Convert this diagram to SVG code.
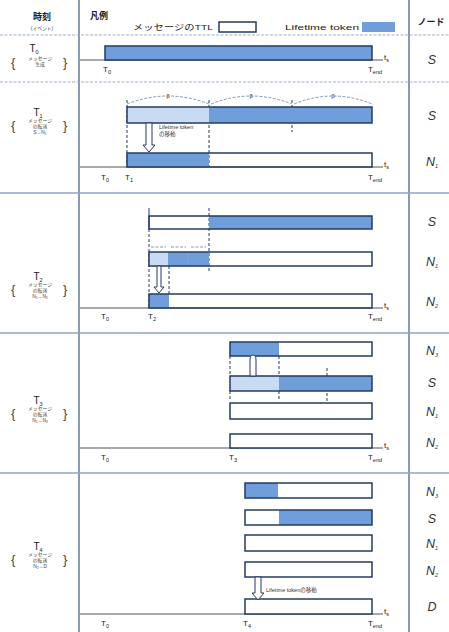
<svg xmlns="http://www.w3.org/2000/svg" width="449" height="632" viewBox="0 0 449 632">
<defs>
<style>
text{font-family:"Liberation Sans","Noto Sans CJK JP",sans-serif;fill:#222}
.hd{font-size:9px;font-weight:bold;text-anchor:middle}
.lg{font-size:8px}
.tl{font-size:8px;text-anchor:middle}
.tb{font-size:10px;text-anchor:middle}
.sub{font-size:5.5px}
.tiny{font-size:4.8px;text-anchor:middle;fill:#444}
.br{font-size:13px;fill:#444}
.nd{font-size:12.5px;font-style:italic;text-anchor:middle;fill:#333}
.bar{stroke:#243b63;stroke-width:1.5}
.w{fill:#fff}
.b{fill:#6f9edb}
.l{fill:#c8dbf2}
.seg{stroke:none}
.col{stroke:#3a5683;stroke-width:1.2;fill:none}
.sep{stroke:#8ea6c6;stroke-width:1.5;fill:none}
.dsep{stroke:#9fb3cd;stroke-width:1.2;stroke-dasharray:3 1.5;fill:none}
.axis{stroke:#555;stroke-width:1;fill:none}
.dv{stroke:#243b63;stroke-width:1;stroke-dasharray:3 2;fill:none}
.arc{stroke:#6a7fa3;stroke-width:0.8;stroke-dasharray:3 1.5;fill:none}
.arr{fill:#fff;stroke:#243b63;stroke-width:1}
.an{font-size:5.5px;fill:#333}
</style>
</defs>

<g id="grid">
<line class="col" x1="79" y1="0" x2="79" y2="632"/>
<line class="col" x1="409" y1="0" x2="409" y2="632"/>
<line class="dsep" x1="0" y1="35" x2="449" y2="35"/>
<line class="dsep" x1="0" y1="82" x2="449" y2="82"/>
<line class="sep" x1="0" y1="193" x2="449" y2="193"/>
<line class="sep" x1="0" y1="333" x2="449" y2="333"/>
<line class="sep" x1="0" y1="473" x2="449" y2="473"/>
</g>

<g id="header">
<text class="hd" x="42" y="20">時刻</text>
<text class="tiny" x="42" y="30">(イベント)</text>
<text class="hd" x="99" y="19">凡例</text>
<text class="lg" x="133" y="30" textLength="80" lengthAdjust="spacingAndGlyphs">メッセージのTTL</text>
<rect class="bar w" x="219" y="22" width="37" height="10"/>
<text class="lg" x="285" y="30" textLength="74" lengthAdjust="spacingAndGlyphs">Lifetime token</text>
<rect class="b" x="362" y="22" width="33" height="10"/>
<text class="hd" x="431" y="25">ノード</text>
</g>

<!-- T0 -->
<g id="row-T0">
<text class="tb" x="34" y="52">T<tspan class="sub" dy="2">0</tspan></text>
<text class="br" x="11" y="67">{</text>
<text class="br" x="63" y="67">}</text>
<text class="tiny" x="40" y="60">メッセージ</text>
<text class="tiny" x="40" y="66">生成</text>
<line class="axis" x1="80" y1="60" x2="383" y2="60"/>
<rect class="bar b" x="105" y="46" width="267" height="14"/>
<text class="tl" x="107" y="72">T<tspan class="sub" dy="2">0</tspan></text>
<text class="tl" x="375" y="72">T<tspan class="sub" dy="2">end</tspan></text>
<text class="lg" x="384" y="60">t<tspan class="sub" dy="2">s</tspan></text>
<text class="nd" x="432" y="64">S</text>
</g>

<!-- T1 -->
<g id="row-T1">
<text class="tb" x="38" y="116">T<tspan class="sub" dy="2">1</tspan></text>
<text class="br" x="11" y="130">{</text>
<text class="br" x="63" y="130">}</text>
<text class="tiny" x="40" y="122">メッセージ</text>
<text class="tiny" x="40" y="128">の転送</text>
<text class="tiny" x="40" y="134">S→N<tspan font-size="3.5px" dy="1">1</tspan></text>
<path class="arc" d="M127,104 Q168,88 209,104"/>
<path class="arc" d="M211,104 Q251,88 292,104"/>
<path class="arc" d="M294,104 Q333,88 372,104"/>
<text class="an" x="168" y="98" text-anchor="middle">β</text>
<text class="an" x="251" y="98" text-anchor="middle">β</text>
<text class="an" x="333" y="98" text-anchor="middle">β</text>
<line class="dv" x1="127" y1="100" x2="127" y2="167"/>
<line class="dv" x1="209" y1="100" x2="209" y2="167"/>
<line class="dv" x1="292" y1="100" x2="292" y2="132"/>
<line class="axis" x1="80" y1="167" x2="383" y2="167"/>
<rect class="seg l" x="127" y="107" width="82" height="16"/>
<rect class="seg b" x="209" y="107" width="163" height="16"/>
<rect class="bar" fill="none" x="127" y="107" width="245" height="16"/>
<rect class="seg b" x="127" y="153" width="82" height="14"/>
<rect class="bar" fill="none" x="127" y="153" width="245" height="14"/>
<path class="arr" d="M146,123 L152,123 L152,145 L155,145 L149,152 L143,145 L146,145 Z"/>
<text class="an" x="159" y="129">Lifetime token</text>
<text class="an" x="159" y="136">の移動</text>
<text class="tl" x="105" y="180">T<tspan class="sub" dy="2">0</tspan></text>
<text class="tl" x="129" y="180">T<tspan class="sub" dy="2">1</tspan></text>
<text class="tl" x="375" y="180">T<tspan class="sub" dy="2">end</tspan></text>
<text class="lg" x="384" y="167">t<tspan class="sub" dy="2">s</tspan></text>
<text class="nd" x="432" y="120">S</text>
<text class="nd" x="432" y="166">N<tspan class="sub" dy="2">1</tspan></text>
</g>

<!-- T2 -->
<g id="row-T2">
<text class="tb" x="38" y="280">T<tspan class="sub" dy="2">2</tspan></text>
<text class="br" x="11" y="294">{</text>
<text class="br" x="63" y="294">}</text>
<text class="tiny" x="40" y="286">メッセージ</text>
<text class="tiny" x="40" y="292">の転送</text>
<text class="tiny" x="40" y="298">N<tspan font-size="3.5px" dy="1">1</tspan><tspan dy="-1">→N</tspan><tspan font-size="3.5px" dy="1">2</tspan></text>
<line stroke="#243b63" stroke-width="1" x1="149" y1="208" x2="149" y2="229"/>
<line class="dv" x1="149" y1="229" x2="149" y2="308"/>
<line class="dv" x1="209" y1="208" x2="209" y2="272"/>
<line class="dv" x1="169" y1="266" x2="169" y2="294"/>
<line class="arc" x1="151" y1="247" x2="166" y2="247"/>
<line class="arc" x1="171" y1="247" x2="186" y2="247"/>
<line class="arc" x1="191" y1="247" x2="206" y2="247"/>
<line class="axis" x1="80" y1="308" x2="383" y2="308"/>
<rect class="seg b" x="209" y="216" width="163" height="13"/>
<rect class="bar" fill="none" x="149" y="216" width="223" height="13"/>
<rect class="seg l" x="149" y="252" width="19" height="14"/>
<rect class="seg b" x="168" y="252" width="41" height="14"/>
<line stroke="#8aa6cf" stroke-width="0.8" x1="188" y1="252" x2="188" y2="266"/>
<rect class="bar" fill="none" x="149" y="252" width="223" height="14"/>
<rect class="seg b" x="149" y="294" width="20" height="14"/>
<rect class="bar" fill="none" x="149" y="294" width="223" height="14"/>
<path class="arr" d="M157,266 L161,266 L161,287 L164,287 L159,293 L154,287 L157,287 Z"/>
<text class="tl" x="105" y="319">T<tspan class="sub" dy="2">0</tspan></text>
<text class="tl" x="152" y="319">T<tspan class="sub" dy="2">2</tspan></text>
<text class="tl" x="375" y="319">T<tspan class="sub" dy="2">end</tspan></text>
<text class="lg" x="384" y="308">t<tspan class="sub" dy="2">s</tspan></text>
<text class="nd" x="432" y="226">S</text>
<text class="nd" x="432" y="266">N<tspan class="sub" dy="2">1</tspan></text>
<text class="nd" x="432" y="306">N<tspan class="sub" dy="2">2</tspan></text>
</g>

<!-- T3 -->
<g id="row-T3">
<text class="tb" x="38" y="404">T<tspan class="sub" dy="2">3</tspan></text>
<text class="br" x="11" y="418">{</text>
<text class="br" x="63" y="418">}</text>
<text class="tiny" x="40" y="410">メッセージ</text>
<text class="tiny" x="40" y="416">の転送</text>
<text class="tiny" x="40" y="422">N<tspan font-size="3.5px" dy="1">1</tspan><tspan dy="-1">→N</tspan><tspan font-size="3.5px" dy="1">3</tspan></text>
<line class="dv" x1="230" y1="356" x2="230" y2="376"/>
<line class="dv" x1="279" y1="356" x2="279" y2="376"/>
<line class="dv" x1="230" y1="391" x2="230" y2="400"/>
<line class="dv" x1="279" y1="391" x2="279" y2="400"/>
<line class="dv" x1="327" y1="368" x2="327" y2="402"/>
<line class="axis" x1="80" y1="448" x2="383" y2="448"/>
<rect class="seg b" x="230" y="342" width="49" height="14"/>
<rect class="bar" fill="none" x="230" y="342" width="142" height="14"/>
<rect class="seg l" x="230" y="376" width="49" height="15"/>
<rect class="seg b" x="279" y="376" width="93" height="15"/>
<rect class="bar" fill="none" x="230" y="376" width="142" height="15"/>
<rect class="bar w" x="230" y="403" width="142" height="16"/>
<rect class="bar w" x="230" y="434" width="142" height="14"/>
<path class="arr" d="M250,376 L250,360 Q250,355 253,355 Q256,355 256,360 L256,376 Z"/>
<text class="tl" x="105" y="460">T<tspan class="sub" dy="2">0</tspan></text>
<text class="tl" x="233" y="460">T<tspan class="sub" dy="2">3</tspan></text>
<text class="tl" x="375" y="460">T<tspan class="sub" dy="2">end</tspan></text>
<text class="lg" x="384" y="448">t<tspan class="sub" dy="2">s</tspan></text>
<text class="nd" x="432" y="355">N<tspan class="sub" dy="2">3</tspan></text>
<text class="nd" x="432" y="387">S</text>
<text class="nd" x="432" y="416">N<tspan class="sub" dy="2">1</tspan></text>
<text class="nd" x="432" y="447">N<tspan class="sub" dy="2">2</tspan></text>
</g>

<!-- T4 -->
<g id="row-T4">
<text class="tb" x="38" y="550">T<tspan class="sub" dy="2">4</tspan></text>
<text class="br" x="11" y="564">{</text>
<text class="br" x="63" y="564">}</text>
<text class="tiny" x="40" y="556">メッセージ</text>
<text class="tiny" x="40" y="562">の転送</text>
<text class="tiny" x="40" y="568">N<tspan font-size="3.5px" dy="1">2</tspan><tspan dy="-1">→D</tspan></text>
<line class="axis" x1="80" y1="614" x2="383" y2="614"/>
<rect class="seg b" x="245" y="483" width="33" height="15"/>
<rect class="bar" fill="none" x="245" y="483" width="127" height="15"/>
<rect class="seg b" x="279" y="510" width="93" height="15"/>
<rect class="bar" fill="none" x="245" y="510" width="127" height="15"/>
<rect class="bar w" x="245" y="535" width="127" height="16"/>
<rect class="bar w" x="245" y="562" width="127" height="15"/>
<rect class="bar w" x="245" y="599" width="127" height="15"/>
<path class="arr" d="M255,577 L261,577 L261,593 L264,593 L258,600 L252,593 L255,593 Z"/>
<text class="an" x="266" y="592">Lifetime tokenの移動</text>
<text class="tl" x="105" y="626">T<tspan class="sub" dy="2">0</tspan></text>
<text class="tl" x="247" y="626">T<tspan class="sub" dy="2">4</tspan></text>
<text class="tl" x="375" y="626">T<tspan class="sub" dy="2">end</tspan></text>
<text class="lg" x="384" y="614">t<tspan class="sub" dy="2">s</tspan></text>
<text class="nd" x="432" y="496">N<tspan class="sub" dy="2">3</tspan></text>
<text class="nd" x="432" y="523">S</text>
<text class="nd" x="432" y="548">N<tspan class="sub" dy="2">1</tspan></text>
<text class="nd" x="432" y="575">N<tspan class="sub" dy="2">2</tspan></text>
<text class="nd" x="432" y="611">D</text>
</g>
</svg>
